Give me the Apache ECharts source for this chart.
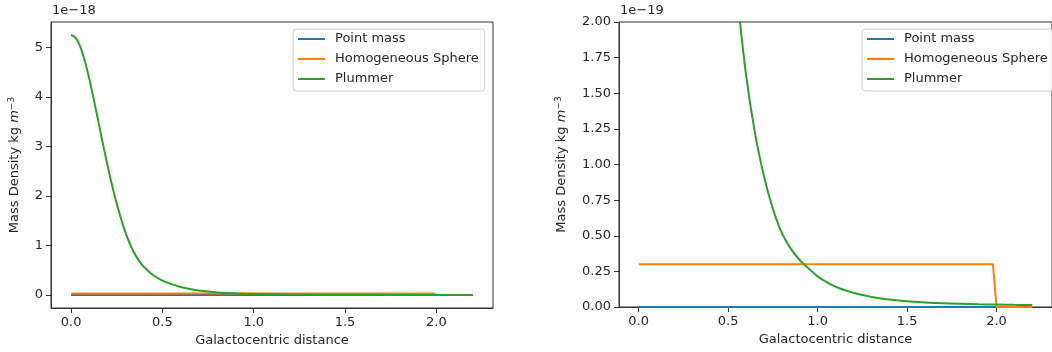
<!DOCTYPE html>
<html>
<head>
<meta charset="utf-8">
<script src="https://cdn.jsdelivr.net/npm/echarts@6/dist/echarts.min.js"></script>
<style>html,body{margin:0;padding:0;background:#fff}#c{width:1052px;height:352px}</style>
</head>
<body>
<div id="c"></div>
<script>
// Galactocentric distance samples and densities (kg m^-3)
const plummerR = [0.00, 0.02, 0.04, 0.06, 0.08, 0.10, 0.12, 0.14, 0.16, 0.18, 0.20, 0.22, 0.24, 0.26, 0.28, 0.30, 0.32, 0.34, 0.36, 0.38, 0.40, 0.45, 0.50, 0.55, 0.60, 0.65, 0.70, 0.75, 0.80, 0.85, 0.90, 0.95, 1.00, 1.05, 1.10, 1.15, 1.20, 1.25, 1.30, 1.40, 1.50, 1.60, 1.70, 1.80, 1.90, 2.00, 2.10, 2.20];
const plummerRho = [5.25e-18, 5.21e-18, 5.10e-18, 4.91e-18, 4.66e-18, 4.36e-18, 4.02e-18, 3.67e-18, 3.31e-18, 2.95e-18, 2.61e-18, 2.28e-18, 1.98e-18, 1.71e-18, 1.46e-18, 1.24e-18, 1.05e-18, 0.89e-18, 0.76e-18, 0.65e-18, 0.56e-18, 0.40e-18, 0.29e-18, 0.22e-18, 0.163e-18, 0.122e-18, 0.092e-18, 0.069e-18, 0.052e-18, 0.041e-18, 0.033e-18, 0.027e-18, 0.0215e-18, 0.0175e-18, 0.0143e-18, 0.0119e-18, 0.0100e-18, 0.0084e-18, 0.0071e-18, 0.0052e-18, 0.0040e-18, 0.0032e-18, 0.0026e-18, 0.0022e-18, 0.0019e-18, 0.0017e-18, 0.0015e-18, 0.0014e-18];
const sphereR = [0.0, 1.98, 2.0, 2.2];
const sphereRho = [0.3e-19, 0.3e-19, 0.0, 0.0];
const pointR = [0.0, 2.2];
const pointRho = [0.0, 0.0];
const seriesNames = ['Point mass', 'Homogeneous Sphere', 'Plummer'];
const xTicks = [0.0, 0.5, 1.0, 1.5, 2.0];
const yTicksLeft = [0, 1, 2, 3, 4, 5];          // ×1e-18
const yTicksRight = [0, 0.25, 0.5, 0.75, 1.0, 1.25, 1.5, 1.75, 2.0]; // ×1e-19
const offsetLeft = '1e\u221218';
const offsetRight = '1e\u221219';

const zip = (a, b) => a.map((v, i) => [v, b[i]]);
const colors = ['#1f77b4', '#ff7f0e', '#2ca02c'];
const FONT = 'DejaVu Sans';
const TXT = '#262626';
const AX = '#333';

function xAxis(gi) {
  return {
    type: 'value', gridIndex: gi, min: -0.11, max: 2.31,
    name: 'Galactocentric distance', nameLocation: 'middle', nameGap: 25,
    nameTextStyle: {fontFamily: FONT, fontSize: 13, color: TXT},
    axisLine: {show: true, onZero: false, lineStyle: {color: AX, width: 1}},
    axisTick: {show: true, length: 5, inside: false, customValues: xTicks, lineStyle: {color: AX}},
    axisLabel: {customValues: xTicks, margin: 8, fontFamily: FONT, fontSize: 13, color: TXT,
      formatter: v => v.toFixed(1)},
    splitLine: {show: false}
  };
}
function yAxis(gi, min, max, ticks, scale, digits, gap) {
  const vals = ticks.map(t => t * scale);
  return {
    type: 'value', gridIndex: gi, min: min, max: max,
    name: 'Mass Density kg {i|m}{s|\u22123}', nameLocation: 'middle', nameGap: gap, nameRotate: 90,
    nameTextStyle: {fontFamily: FONT, fontSize: 13, color: TXT, lineHeight: 16,
      rich: {i: {fontFamily: FONT, fontSize: 13, fontStyle: 'italic', color: TXT, lineHeight: 16},
             s: {fontFamily: FONT, fontSize: 9, color: TXT, verticalAlign: 'top', lineHeight: 16}}},
    axisLine: {show: true, onZero: false, lineStyle: {color: AX, width: 1}},
    axisTick: {show: true, length: 5, customValues: vals, lineStyle: {color: AX}},
    axisLabel: {customValues: vals, margin: 8, fontFamily: FONT, fontSize: 13, color: TXT,
      formatter: v => (v / scale).toFixed(digits)},
    splitLine: {show: false}
  };
}
function legend(left) {
  return {
    orient: 'vertical', left: left, top: 29, data: seriesNames,
    icon: 'rect', itemWidth: 27, itemHeight: 2, itemGap: 6,
    padding: [3, 6, 5, 5],
    backgroundColor: 'rgba(255,255,255,0.8)', borderColor: '#cccccc', borderWidth: 1, borderRadius: 3,
    textStyle: {fontFamily: FONT, fontSize: 13, color: TXT, lineHeight: 14, padding: [0, 0, 0, 5]},
    selectedMode: false
  };
}
const datasets = [zip(pointR, pointRho), zip(sphereR, sphereRho), zip(plummerR, plummerRho)];
const series = [];
[0, 1].forEach(gi => {
  datasets.forEach((d, k) => {
    series.push({
      type: 'line', name: seriesNames[k], xAxisIndex: gi, yAxisIndex: gi,
      data: d, symbol: 'none', smooth: k === 2 ? 0.4 : false, clip: true,
      lineStyle: {color: colors[k], width: 2}, itemStyle: {color: colors[k]},
      animation: false, z: 2 + k
    });
  });
});

const chart = echarts.init(document.getElementById('c'), null, {renderer: 'canvas'});
chart.setOption({
  backgroundColor: '#fff',
  animation: false,
  textStyle: {fontFamily: FONT},
  grid: [
    {left: 51, top: 22, width: 442, height: 286, show: true, borderColor: AX, borderWidth: 1, backgroundColor: 'transparent'},
    {left: 619, top: 22, width: 442, height: 285, show: true, borderColor: AX, borderWidth: 1, backgroundColor: 'transparent'}
  ],
  xAxis: [xAxis(0), xAxis(1)],
  yAxis: [
    yAxis(0, -0.2625e-18, 5.5125e-18, yTicksLeft, 1e-18, 0, 28),
    yAxis(1, 0, 2e-19, yTicksRight, 1e-19, 2, 49)
  ],
  legend: [legend(293), legend(862)],
  graphic: [
    {type: 'text', left: 52, top: 4, style: {text: offsetLeft, font: '13px "DejaVu Sans"', fill: TXT}},
    {type: 'text', left: 620, top: 4, style: {text: offsetRight, font: '13px "DejaVu Sans"', fill: TXT}}
  ],
  series: series
});
</script>
</body>
</html>
